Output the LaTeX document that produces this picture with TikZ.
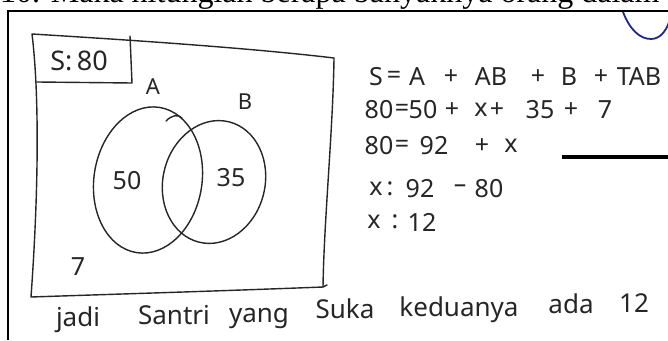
\documentclass[tikz,border=0pt]{standalone}
\usepackage{fontspec}
\usetikzlibrary{shapes.geometric}
\setmainfont{Liberation Serif}
\newfontfamily\hand{Noto Sans}
\begin{document}
\begin{tikzpicture}[x=1pt,y=-1pt,
  pen/.style={line width=1.4pt,line cap=round,line join=round,black!85},
  handtxt/.style={font=\hand\fontsize{22}{22}\selectfont,inner sep=0pt,text=black!85},
  eqtxt/.style={font=\hand\fontsize{25}{25}\selectfont,inner sep=0pt,text=black!85},
  wordtxt/.style={font=\hand\fontsize{26}{26}\selectfont,inner sep=0pt,anchor=base,text=black!85},
  smalltxt/.style={font=\hand\fontsize{25}{25}\selectfont,inner sep=0pt,text=black!85}]
\useasboundingbox (0,0) rectangle (668,340);
\fill[white] (0,0) rectangle (668,340);
\begin{scope}
\clip (0,0) rectangle (668,340);
% cropped printed question line
\node[anchor=base west,inner sep=0pt,font=\fontsize{32}{32}\selectfont] (q) at (0,2.5) {10. Maka hitunglah berapa banyaknya orang dalam};
% page frame
\coordinate (f1) at (8,11);
\coordinate (f2) at (668,11);
\coordinate (f3) at (8,340);
\draw[line width=2pt] (f3) -- (f1) -- (f2);
% blue arc
\coordinate (b1) at (623,12);
\coordinate (b2) at (651,39);
\coordinate (b3) at (669,22);
\draw[line width=1.8pt,color={rgb,255:red,30;green,40;blue,140}] (b1) .. controls (630,30) and (640,39) .. (b2) .. controls (660,39) and (666,31) .. (b3);
% thick rule
\coordinate (r1) at (562,157);
\coordinate (r2) at (668,157);
\draw[line width=4pt] (r1) -- (r2);
% hand drawn universe rectangle
\coordinate (u1) at (32,34);
\coordinate (u2) at (334,58);
\coordinate (u3) at (323,287);
\coordinate (u4) at (31,297);
\draw[pen] (u1) .. controls (130,40) and (250,48) .. (u2)
  .. controls (333,130) and (324,220) .. (u3)
  .. controls (220,291) and (120,294) .. (u4)
  .. controls (38,200) and (40,100) .. cycle;
\draw[pen] (u3) -- (327,285);
% S:80 box
\coordinate (s1) at (130,36);
\coordinate (s2) at (132,83);
\coordinate (s3) at (37,82);
\draw[pen] (s1) -- (s2) -- (s3);
\node[smalltxt,font=\hand\fontsize{27}{27}\selectfont] (s) at (79,61) {S:\,80};
% set labels
\node[handtxt] (la) at (153,87) {A};
\node[handtxt] (lb) at (245,102) {B};
% Venn ellipses
\node[pen,draw,ellipse,minimum width=108pt,minimum height=147pt,rotate=-9,inner sep=0pt] (ea) at (148,180) {};
\node[pen,draw,ellipse,minimum width=102pt,minimum height=124pt,rotate=-14,inner sep=0pt] (eb) at (214,182) {};
\draw[pen] (166,121) .. controls (172,115) and (178,114) .. (182,118);
\node[smalltxt] (n50) at (127,181) {50};
\node[smalltxt] (n35) at (231,178) {35};
\node[smalltxt] (n7) at (78,267) {7};
% equations
\foreach \t/\x [count=\i] in {S/376, =/394, A/417, +/451, AB/491, +/538, B/569, +/601, TAB/639}
  \node[eqtxt] (ea\i) at (\x,77) {\t};
\foreach \t/\x [count=\i] in {80/379, =/402, 50/423, +/452, x/481, +/497, 35/540, +/571, 7/605}
  \node[eqtxt] (eb\i) at (\x,110) {\t};
\foreach \t/\x [count=\i] in {80/379, =/402, 92/434, +/482, x/511}
  \node[eqtxt] (ec\i) at (\x,146) {\t};
\foreach \t/\x [count=\i] in {x/376, :/390, 92/420, {\textendash}/460, 80/489}
  \node[eqtxt] (ed\i) at (\x,189) {\t};
\foreach \t/\x [count=\i] in {x/374, :/395, 12/422}
  \node[eqtxt] (ee\i) at (\x,222) {\t};
% conclusion
\foreach \t/\x/\y [count=\i] in {jadi/78/326, Santri/174/324, yang/259/322, Suka/345/318, keduanya/459/316, ada/571/313, 12/634/312}
  \node[wordtxt] (w\i) at (\x,\y) {\t};
\end{scope}
\end{tikzpicture}
\end{document}
